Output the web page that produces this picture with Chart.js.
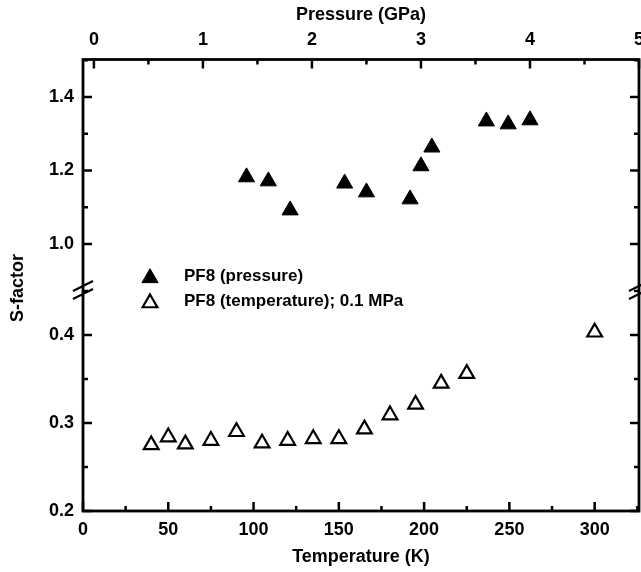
<!DOCTYPE html>
<html><head><meta charset="utf-8">
<script src="https://cdn.jsdelivr.net/npm/chart.js@4.4.0/dist/chart.umd.min.js"></script>
<style>html,body{margin:0;padding:0;background:#fff;}#wrap{width:641px;height:572px;}</style>
</head><body>
<div id="wrap"><canvas id="c" width="641" height="572"></canvas></div>
<script>
// ---- data ----
const pressureGPa  = [1.4, 1.6, 1.8, 2.3, 2.5, 2.9, 3.0, 3.1, 3.6, 3.8, 4.0];
const sPressure    = [1.182, 1.171, 1.092, 1.165, 1.141, 1.122, 1.212, 1.263, 1.334, 1.326, 1.337];
const temperatureK = [40, 50, 60, 75, 90, 105, 120, 135, 150, 165, 180, 195, 210, 225, 300];
const sTemperature = [0.275, 0.284, 0.276, 0.280, 0.290, 0.277, 0.280, 0.282, 0.282, 0.293, 0.309, 0.321, 0.345, 0.356, 0.403];
const tempTicks     = [0, 50, 100, 150, 200, 250, 300];
const pressureTicks = [0, 1, 2, 3, 4, 5];
const lowTicks      = [0.2, 0.3, 0.4];
const highTicks     = [1.0, 1.2, 1.4];
const seriesLabels  = ['PF8 (pressure)', 'PF8 (temperature); 0.1 MPa'];
const titleX  = 'Temperature (K)';
const titleX2 = 'Pressure (GPa)';
const titleY  = 'S-factor';

// ---- styling ----
const FONT = "'Liberation Sans', Arial, Helvetica, sans-serif";
const tickFont = {family: FONT, size: 18, weight: 'bold'};
const titleFont = {family: FONT, size: 18, weight: 'bold'};
const fixTicks = arr => scale => { scale.ticks = arr.map(v => ({value: v})); };

function drawTri(ctx, x, y, r, filled, bw) {
  ctx.save();
  ctx.lineWidth = bw;
  ctx.strokeStyle = '#000';
  ctx.fillStyle = filled ? '#000' : '#fff';
  if (Chart.helpers && Chart.helpers.drawPoint) {
    Chart.helpers.drawPoint(ctx, {pointStyle: 'triangle', radius: r, borderWidth: bw, rotation: 0}, x, y);
  } else {
    ctx.beginPath();
    ctx.moveTo(x, y - r);
    ctx.lineTo(x + Math.sin(2*Math.PI/3) * r, y - Math.cos(2*Math.PI/3) * r);
    ctx.lineTo(x + Math.sin(4*Math.PI/3) * r, y - Math.cos(4*Math.PI/3) * r);
    ctx.closePath(); ctx.fill(); ctx.stroke();
  }
  ctx.restore();
}

const decor = {
  id: 'decor',
  afterDraw(chart) {
    const ctx = chart.ctx;
    const a = chart.chartArea;
    const s = chart.scales;
    ctx.save();
    ctx.strokeStyle = '#000';
    ctx.lineCap = 'butt';
    ctx.lineWidth = 2.5;
    const hTick = (scale, vals, len, atTop) => {
      vals.forEach(v => {
        if (v < scale.min || v > scale.max) return;
        const px = scale.getPixelForValue(v);
        ctx.beginPath();
        if (atTop) { ctx.moveTo(px, a.top); ctx.lineTo(px, a.top + len); }
        else { ctx.moveTo(px, a.bottom); ctx.lineTo(px, a.bottom - len); }
        ctx.stroke();
      });
    };
    const vTick = (scale, vals, len) => {
      vals.forEach(v => {
        if (v < scale.min || v > scale.max) return;
        const py = scale.getPixelForValue(v);
        ctx.beginPath();
        ctx.moveTo(a.left, py); ctx.lineTo(a.left + len, py);
        ctx.moveTo(a.right, py); ctx.lineTo(a.right - len, py);
        ctx.stroke();
      });
    };
    const mids = arr => arr.map(v => v + (arr[1] - arr[0]) / 2);
    hTick(s.x, tempTicks, 9, false);
    hTick(s.x, mids(tempTicks), 5, false);
    hTick(s.x2, pressureTicks, 9, true);
    hTick(s.x2, mids(pressureTicks), 5, true);
    vTick(s.yLow, lowTicks, 9);
    vTick(s.yLow, mids(lowTicks), 5);
    vTick(s.yHigh, highTicks, 9);
    vTick(s.yHigh, mids(highTicks), 5);
    // frame
    ctx.lineWidth = 2.8;
    ctx.strokeRect(a.left, a.top, a.right - a.left, a.bottom - a.top);
    // axis break marks
    const yb = s.yLow.top;
    ctx.lineWidth = 2.2;
    [a.left, a.right].forEach(x => {
      [-4, 4].forEach(off => {
        ctx.beginPath();
        ctx.moveTo(x - 10, yb + off + 5);
        ctx.lineTo(x + 10, yb + off - 5);
        ctx.stroke();
      });
    });
    // y axis title
    ctx.fillStyle = '#000';
    ctx.font = 'bold 18px ' + FONT;
    ctx.textAlign = 'center';
    ctx.textBaseline = 'middle';
    ctx.save();
    ctx.translate(18, 288);
    ctx.rotate(-Math.PI / 2);
    ctx.fillText(titleY, 0, 0);
    ctx.restore();
    // legend
    const ds = chart.data.datasets;
    const rows = [{y: 276, filled: true}, {y: 301, filled: false}];
    ctx.font = 'bold 17px ' + FONT;
    ctx.textAlign = 'left';
    rows.forEach((r, i) => {
      drawTri(ctx, 150, r.y + 2, ds[i].pointRadius, r.filled, ds[i].borderWidth);
      ctx.fillStyle = '#000';
      ctx.fillText(ds[i].label, 184, r.y);
    });
    ctx.restore();
  }
};

new Chart(document.getElementById('c'), {
  type: 'scatter',
  data: {
    datasets: [
      {
        label: seriesLabels[0],
        data: pressureGPa.map((p, i) => ({x: p, y: sPressure[i]})),
        xAxisID: 'x2', yAxisID: 'yHigh',
        pointStyle: 'triangle', pointRadius: 9.3, pointHoverRadius: 9.3,
        backgroundColor: '#000', borderColor: '#000', borderWidth: 1
      },
      {
        label: seriesLabels[1],
        data: temperatureK.map((t, i) => ({x: t, y: sTemperature[i]})),
        xAxisID: 'x', yAxisID: 'yLow',
        pointStyle: 'triangle', pointRadius: 8.5, pointHoverRadius: 8.5,
        backgroundColor: '#fff', borderColor: '#000', borderWidth: 2.2
      }
    ]
  },
  options: {
    responsive: false,
    animation: false,
    devicePixelRatio: 1,
    layout: {autoPadding: false, padding: {left: 0, right: 2, top: 0, bottom: 0}},
    plugins: {legend: {display: false}, tooltip: {enabled: false}},
    scales: {
      x: {
        type: 'linear', position: 'bottom', min: 0, max: 326,
        afterBuildTicks: fixTicks(tempTicks),
        afterFit: sc => { sc.height = 61; sc.paddingLeft = 0; sc.paddingRight = 0; },
        grid: {display: false, drawTicks: false}, border: {display: false},
        ticks: {padding: 8, color: '#000', font: tickFont, maxRotation: 0, autoSkip: false},
        title: {display: true, text: titleX, color: '#000', font: titleFont, padding: {top: 0, bottom: 4}}
      },
      x2: {
        type: 'linear', position: 'top', min: -0.1, max: 5,
        afterBuildTicks: fixTicks(pressureTicks),
        afterFit: sc => { sc.height = 59.5; sc.paddingLeft = 0; sc.paddingRight = 0; },
        grid: {display: false, drawTicks: false}, border: {display: false},
        ticks: {padding: 9, color: '#000', font: tickFont, maxRotation: 0, autoSkip: false},
        title: {display: true, text: titleX2, color: '#000', font: titleFont, padding: {top: 4, bottom: 0}}
      },
      yLow: {
        type: 'linear', position: 'left', stack: 'ys', stackWeight: 221,
        min: 0.2, max: 0.451,
        afterBuildTicks: fixTicks(lowTicks),
        afterFit: sc => { sc.width = 83; sc.paddingTop = 0; sc.paddingBottom = 0; },
        grid: {display: false, drawTicks: false}, border: {display: false},
        ticks: {padding: 9, color: '#000', font: tickFont, autoSkip: false, callback: v => Number(v).toFixed(1)}
      },
      yHigh: {
        type: 'linear', position: 'left', stack: 'ys', stackWeight: 230.5,
        min: 0.875, max: 1.502,
        afterBuildTicks: fixTicks(highTicks),
        afterFit: sc => { sc.width = 83; sc.paddingTop = 0; sc.paddingBottom = 0; },
        grid: {display: false, drawTicks: false}, border: {display: false},
        ticks: {padding: 9, color: '#000', font: tickFont, autoSkip: false, callback: v => Number(v).toFixed(1)}
      }
    }
  },
  plugins: [decor]
});
</script>
</body></html>
